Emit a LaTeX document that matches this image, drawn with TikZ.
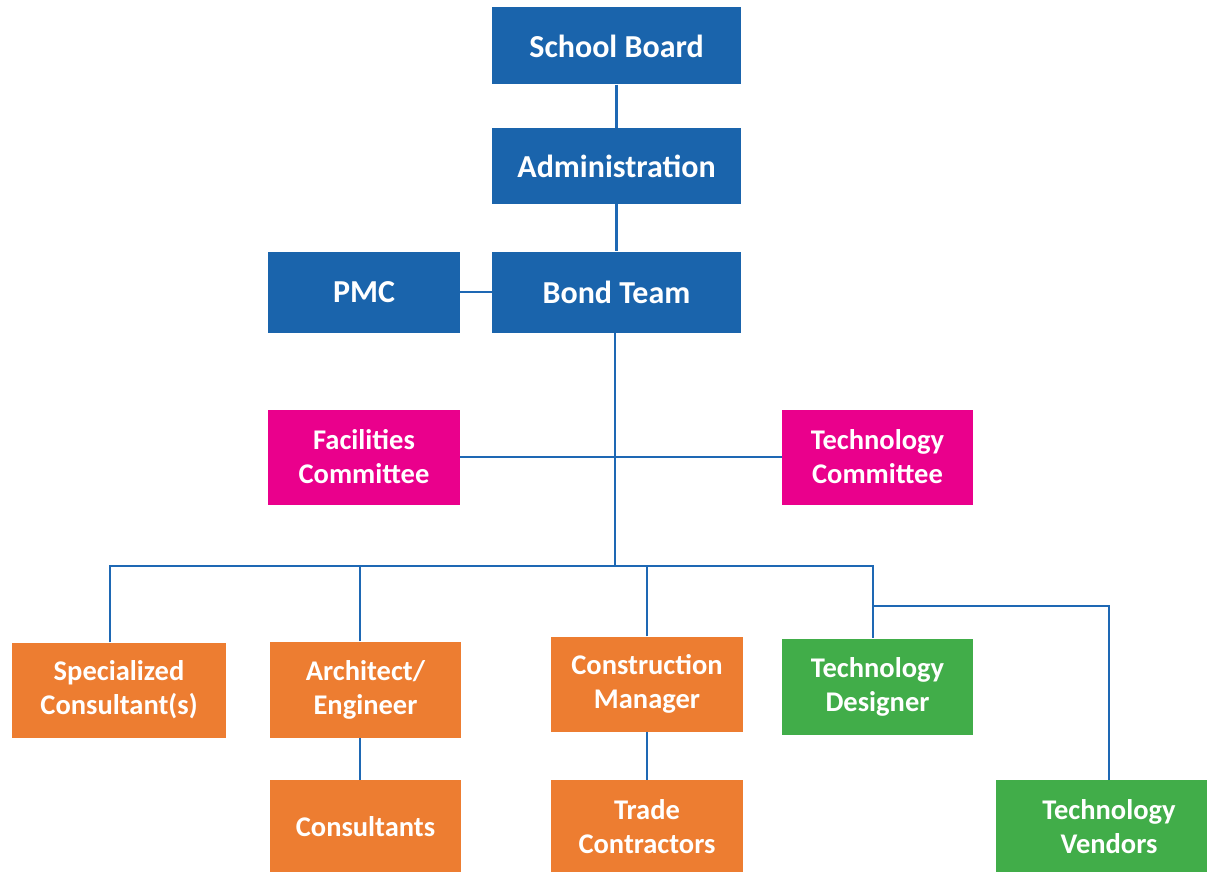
\documentclass[tikz,border=0pt]{standalone}
\usepackage{fontspec}
\setmainfont{Carlito}
\usepackage{xcolor}
\usepackage{tikz}
\usetikzlibrary{positioning,calc}
\definecolor{boardblue}{RGB}{26,100,172}
\definecolor{linkblue}{RGB}{30,104,180}
\definecolor{cmtpink}{RGB}{234,0,140}
\definecolor{teamorange}{RGB}{237,125,49}
\definecolor{techgreen}{RGB}{65,173,73}

\tikzset{
    unit/.style={text=white, font=\fontsize{28.5}{34}\selectfont\bfseries, align=center, inner sep=0pt},
    topbox/.style={unit, fill=boardblue, font=\fontsize{32}{38}\selectfont\bfseries},
    cmtbox/.style={unit, fill=cmtpink},
    orgbox/.style={unit, fill=teamorange},
    techbox/.style={unit, fill=techgreen},
    link/.style={draw=linkblue, line width=2.8pt}
}

\begin{document}
\begin{tikzpicture}[x=1pt,y=-1pt]
    \useasboundingbox (0,0) rectangle (1207,872);

    % Top of the chart
    \node[topbox, minimum width=249pt, minimum height=77pt] (sb) at (616.5,46) {School Board};
    \node[topbox, minimum width=249pt, minimum height=75pt] (adm) at (616.5,166) {Administration};
    \node[topbox, minimum width=249pt, minimum height=81pt] (bt) at (616.5,292) {Bond Team};
    \node[topbox, minimum width=192pt, minimum height=81pt] (pmc) at (364,292) {PMC};

    % Committees
    \node[cmtbox, minimum width=192pt, minimum height=95pt] (fc) at (364,457) {Facilities\\Committee};
    \node[cmtbox, minimum width=191pt, minimum height=95pt] (tc) at (877.5,457) {Technology\\Committee};

    % Project team
    \node[orgbox, minimum width=214pt, minimum height=95pt] (sc) at (119,690) {Specialized\\Consultant(s)};
    \node[orgbox, minimum width=191pt, minimum height=96pt] (ae) at (365.5,689.5) {Architect/\\Engineer};
    \node[orgbox, minimum width=191pt, minimum height=94pt] (cons) at (365.5,827) {Consultants};
    \node[orgbox, minimum width=192pt, minimum height=95pt] (cm) at (647,684) {Construction\\Manager};
    \node[orgbox, minimum width=192pt, minimum height=94pt] (trade) at (647,827) {Trade\\Contractors};
    \node[techbox, minimum width=191pt, minimum height=96pt] (td) at (877.5,686.5) {Technology\\Designer};
    \node[techbox, minimum width=226pt, minimum height=94pt] (tv) at (1109,827) {Technology\\Vendors};

    \coordinate (bus) at (615,566);
    \coordinate (vend) at (873,606);

    % Connectors
    \draw[link] (sb.south) -- (adm.north);
    \draw[link] (adm.south) -- (bt.north);
    \draw[link] (pmc) -- (bt);
    \draw[link] (fc) -- (tc);
    \draw[link] (bt.south -| bus) -- (bus);
    \draw[link] ([xshift=-9pt]sc.north) |- (bus) -| ([xshift=-4.5pt]td.north);
    \draw[link] ([xshift=-5.5pt]ae.north) -- ([xshift=-5.5pt]ae.north |- bus);
    \draw[link] ([xshift=-5.5pt]ae.south) -- ([xshift=-5.5pt]cons.north);
    \draw[link] (cm.north) -- (cm.north |- bus);
    \draw[link] (cm.south) -- (trade.north);
    \draw[link] (vend) -| (tv.north);
\end{tikzpicture}
\end{document}
